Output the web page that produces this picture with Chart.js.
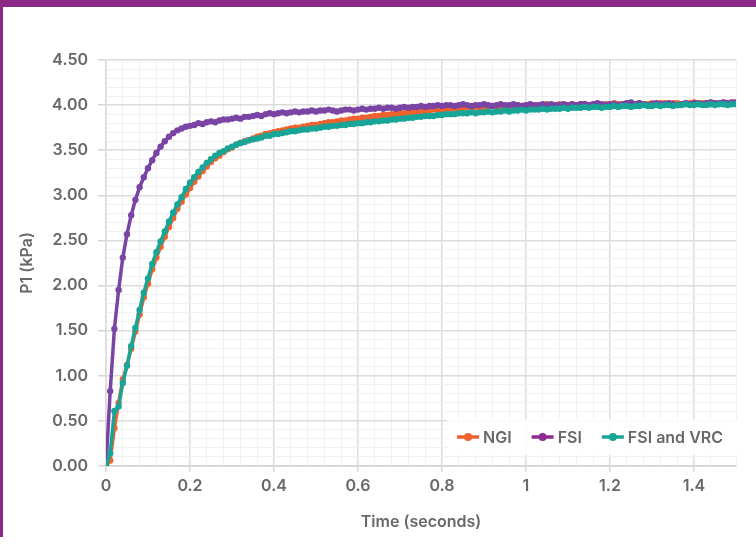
<!DOCTYPE html>
<html>
<head>
<meta charset="utf-8">
<script src="https://cdn.jsdelivr.net/npm/chart.js@4.4.1/dist/chart.umd.min.js"></script>
<style>
  html, body { margin: 0; padding: 0; background: #fff; }
  #wrap { position: relative; width: 756px; height: 547px; overflow: hidden; }
  #frameTop { position: absolute; left: 0; top: 0; width: 756px; height: 7px; background: #8a2a86; }
  #frameLeft { position: absolute; left: 0; top: 0; width: 3px; height: 537px; background: #8a2a86; }
</style>
</head>
<body>
<div id="wrap">
  <canvas id="chart" width="756" height="547"></canvas>
  <div id="frameTop"></div>
  <div id="frameLeft"></div>
</div>
<script>
// time stamps (s)
const times = [
  0, 0.01, 0.02, 0.03, 0.04, 0.05, 0.06, 0.07, 0.08, 0.09,
  0.10, 0.11, 0.12, 0.13, 0.14, 0.15, 0.16, 0.17, 0.18, 0.19,
  0.20, 0.21, 0.22, 0.23, 0.24, 0.25, 0.26, 0.27, 0.28, 0.29,
  0.30, 0.31, 0.32, 0.33, 0.34, 0.35, 0.36, 0.37, 0.38, 0.39,
  0.40, 0.41, 0.42, 0.43, 0.44, 0.45, 0.46, 0.47, 0.48, 0.49,
  0.50, 0.51, 0.52, 0.53, 0.54, 0.55, 0.56, 0.57, 0.58, 0.59,
  0.60, 0.61, 0.62, 0.63, 0.64, 0.65, 0.66, 0.67, 0.68, 0.69,
  0.70, 0.71, 0.72, 0.73, 0.74, 0.75, 0.76, 0.77, 0.78, 0.79,
  0.80, 0.81, 0.82, 0.83, 0.84, 0.85, 0.86, 0.87, 0.88, 0.89,
  0.90, 0.91, 0.92, 0.93, 0.94, 0.95, 0.96, 0.97, 0.98, 0.99,
  1.00, 1.01, 1.02, 1.03, 1.04, 1.05, 1.06, 1.07, 1.08, 1.09,
  1.10, 1.11, 1.12, 1.13, 1.14, 1.15, 1.16, 1.17, 1.18, 1.19,
  1.20, 1.21, 1.22, 1.23, 1.24, 1.25, 1.26, 1.27, 1.28, 1.29,
  1.30, 1.31, 1.32, 1.33, 1.34, 1.35, 1.36, 1.37, 1.38, 1.39,
  1.40, 1.41, 1.42, 1.43, 1.44, 1.45, 1.46, 1.47, 1.48, 1.49,
  1.50
];

// P1 (kPa)
const ngi = [
  0, 0.06, 0.42, 0.70, 0.96, 1.12, 1.30, 1.49, 1.68, 1.87,
  2.02, 2.18, 2.31, 2.43, 2.54, 2.65, 2.75, 2.85, 2.93, 3.01,
  3.08, 3.15, 3.21, 3.27, 3.32, 3.37, 3.41, 3.44, 3.48, 3.51,
  3.53, 3.56, 3.58, 3.60, 3.61, 3.63, 3.65, 3.66, 3.68, 3.69,
  3.70, 3.71, 3.72, 3.73, 3.74, 3.75, 3.75, 3.76, 3.77, 3.78,
  3.78, 3.79, 3.80, 3.81, 3.81, 3.82, 3.83, 3.83, 3.84, 3.85,
  3.85, 3.86, 3.86, 3.87, 3.88, 3.88, 3.89, 3.89, 3.90, 3.90,
  3.91, 3.91, 3.92, 3.92, 3.93, 3.93, 3.94, 3.94, 3.95, 3.95,
  3.95, 3.96, 3.96, 3.96, 3.97, 3.97, 3.97, 3.97, 3.98, 3.98,
  3.98, 3.98, 3.99, 3.98, 3.99, 3.99, 3.99, 3.99, 4.00, 3.99,
  4.00, 4.00, 3.99, 4.00, 4.00, 4.01, 4.00, 4.00, 4.01, 4.00,
  4.00, 4.01, 4.00, 4.01, 4.01, 4.00, 4.01, 4.01, 4.00, 4.01,
  4.01, 4.02, 4.01, 4.01, 4.02, 4.01, 4.01, 4.02, 4.01, 4.01,
  4.02, 4.01, 4.02, 4.02, 4.01, 4.02, 4.02, 4.01, 4.02, 4.02,
  4.03, 4.02, 4.02, 4.02, 4.03, 4.02, 4.02, 4.03, 4.02, 4.03,
  4.03
];

const fsi = [
  0, 0.83, 1.52, 1.95, 2.31, 2.57, 2.78, 2.95, 3.09, 3.20,
  3.30, 3.39, 3.47, 3.54, 3.60, 3.65, 3.69, 3.72, 3.74, 3.76,
  3.77, 3.78, 3.80, 3.79, 3.81, 3.82, 3.81, 3.83, 3.84, 3.84,
  3.85, 3.86, 3.85, 3.87, 3.87, 3.88, 3.89, 3.88, 3.90, 3.91,
  3.90, 3.91, 3.92, 3.91, 3.92, 3.93, 3.92, 3.93, 3.93, 3.94,
  3.93, 3.94, 3.94, 3.95, 3.94, 3.93, 3.94, 3.95, 3.95, 3.94,
  3.95, 3.96, 3.95, 3.96, 3.96, 3.97, 3.96, 3.97, 3.97, 3.96,
  3.97, 3.98, 3.97, 3.98, 3.98, 3.99, 3.98, 3.99, 3.99, 4.00,
  3.99, 4.00, 4.00, 3.99, 4.00, 4.01, 4.00, 3.99, 4.00, 4.00,
  4.01, 4.00, 3.99, 4.00, 4.01, 4.00, 4.00, 4.01, 4.00, 3.99,
  4.00, 4.01, 4.00, 4.00, 4.01, 4.00, 4.01, 4.00, 4.00, 4.01,
  4.00, 4.01, 4.00, 4.01, 4.01, 4.00, 4.01, 4.02, 4.01, 4.00,
  4.01, 4.01, 4.00, 4.01, 4.02, 4.03, 4.01, 4.02, 4.01, 4.00,
  4.01, 4.02, 4.01, 4.01, 4.02, 4.01, 4.00, 4.01, 4.02, 4.01,
  4.02, 4.02, 4.01, 4.02, 4.03, 4.02, 4.02, 4.03, 4.02, 4.03,
  4.03
];

const fsiVrc = [
  0, 0.14, 0.61, 0.66, 0.92, 1.11, 1.33, 1.53, 1.73, 1.92,
  2.08, 2.24, 2.37, 2.49, 2.60, 2.71, 2.81, 2.90, 2.98, 3.07,
  3.14, 3.20, 3.26, 3.31, 3.36, 3.40, 3.44, 3.47, 3.49, 3.52,
  3.54, 3.56, 3.58, 3.59, 3.61, 3.62, 3.63, 3.64, 3.66, 3.66,
  3.68, 3.68, 3.69, 3.70, 3.71, 3.71, 3.72, 3.73, 3.73, 3.74,
  3.74, 3.75, 3.76, 3.76, 3.77, 3.77, 3.78, 3.78, 3.79, 3.79,
  3.80, 3.80, 3.81, 3.81, 3.82, 3.82, 3.83, 3.83, 3.84, 3.84,
  3.85, 3.85, 3.86, 3.86, 3.87, 3.87, 3.88, 3.88, 3.88, 3.89,
  3.89, 3.90, 3.90, 3.90, 3.91, 3.91, 3.91, 3.92, 3.91, 3.92,
  3.92, 3.93, 3.92, 3.93, 3.93, 3.94, 3.93, 3.94, 3.94, 3.95,
  3.94, 3.95, 3.95, 3.95, 3.96, 3.95, 3.96, 3.96, 3.96, 3.97,
  3.96, 3.97, 3.97, 3.97, 3.98, 3.97, 3.98, 3.98, 3.97, 3.98,
  3.98, 3.99, 3.98, 3.99, 3.99, 3.98, 3.99, 3.99, 4.00, 3.99,
  3.99, 4.00, 3.99, 4.00, 4.00, 3.99, 4.00, 4.00, 4.01, 4.00,
  4.00, 4.01, 4.00, 4.00, 4.01, 4.00, 4.01, 4.01, 4.00, 4.01,
  4.01
];

const seriesLabels = ['NGI', 'FSI', 'FSI and VRC'];
const seriesColors = ['#f0622d', '#7a44a4', '#17a597'];
const legendColors = ['#f0622d', '#8b2c8e', '#17a597'];

const textColor = '#67676c';
const fontFamily = 'Inter, "Open Sans", sans-serif';

function pts(ys) {
  return times.map((t, i) => ({x: t, y: ys[i]}));
}

const isMajorY = v => Math.abs(v * 2 - Math.round(v * 2)) < 1e-6;
const isMajorX = v => Math.abs(v * 5 - Math.round(v * 5)) < 1e-6;

const legendBox = {
  id: 'legendBox',
  afterDatasetsDraw(chart) {
    const {ctx, chartArea} = chart;
    ctx.save();
    ctx.font = '600 16px ' + fontFamily;
    const lineW = 22, gap = 4, itemGap = 20;
    const widths = seriesLabels.map(l => lineW + gap + ctx.measureText(l).width);
    const total = widths.reduce((a, b) => a + b, 0) + itemGap * (widths.length - 1);
    const right = chartArea.right - 13;
    const cy = chartArea.bottom - 29;
    let x = right - total;
    ctx.fillStyle = 'rgba(255,255,255,0.88)';
    ctx.fillRect(x - 10, cy - 18, total + 24, 36);
    ctx.textBaseline = 'middle';
    seriesLabels.forEach((label, i) => {
      const c = legendColors[i];
      ctx.strokeStyle = c;
      ctx.lineWidth = 3.5;
      ctx.beginPath();
      ctx.moveTo(x, cy);
      ctx.lineTo(x + lineW, cy);
      ctx.stroke();
      ctx.fillStyle = c;
      ctx.beginPath();
      ctx.arc(x + lineW / 2, cy, 4, 0, Math.PI * 2);
      ctx.fill();
      ctx.fillStyle = textColor;
      ctx.fillText(label, x + lineW + gap, cy + 1);
      x += widths[i] + itemGap;
    });
    ctx.restore();
  }
};

const datasets = [ngi, fsi, fsiVrc].map((ys, i) => ({
  label: seriesLabels[i],
  data: pts(ys),
  borderColor: seriesColors[i],
  backgroundColor: seriesColors[i],
  pointBackgroundColor: seriesColors[i],
  pointBorderColor: seriesColors[i],
  pointRadius: 3.2,
  pointBorderWidth: 0,
  borderWidth: 3.5,
  tension: 0,
  order: 3 - i
}));

const tickFont = {family: fontFamily, size: 16, weight: '600'};

new Chart(document.getElementById('chart'), {
  type: 'line',
  data: {datasets},
  options: {
    responsive: false,
    animation: false,
    layout: {padding: {top: 60, right: 20, bottom: 0, left: 0}},
    plugins: {
      legend: {display: false},
      tooltip: {enabled: false}
    },
    scales: {
      x: {
        type: 'linear',
        min: 0,
        max: 1.5,
        afterFit: s => { s.height = 81; },
        ticks: {
          stepSize: 0.04,
          maxTicksLimit: 100,
          autoSkip: false,
          maxRotation: 0,
          padding: 5,
          color: textColor,
          font: tickFont,
          callback: v => isMajorX(v) ? String(Number(v.toFixed(1))) : ''
        },
        grid: {
          color: c => isMajorX(c.tick.value) ? '#dcdcdc' : '#f1f1f1',
          tickColor: c => isMajorX(c.tick.value) ? '#d6d6d6' : 'rgba(0,0,0,0)',
          tickLength: 6,
          lineWidth: c => isMajorX(c.tick.value) ? 1.5 : 1
        },
        border: {color: '#d2d2d2', width: 1.5},
        title: {
          display: true,
          text: 'Time (seconds)',
          color: textColor,
          font: tickFont,
          padding: {top: 0, bottom: 15}
        }
      },
      y: {
        min: 0,
        max: 4.5,
        afterFit: s => { s.width = 106; },
        ticks: {
          stepSize: 0.1,
          maxTicksLimit: 100,
          autoSkip: false,
          padding: 10,
          color: textColor,
          font: tickFont,
          callback: v => isMajorY(v) ? v.toFixed(2) : ''
        },
        grid: {
          color: c => isMajorY(c.tick.value) ? '#dcdcdc' : '#f1f1f1',
          tickColor: c => isMajorY(c.tick.value) ? '#d6d6d6' : 'rgba(0,0,0,0)',
          tickLength: 8,
          lineWidth: c => isMajorY(c.tick.value) ? 1.5 : 1
        },
        border: {color: '#e2e2e2', width: 1},
        title: {
          display: true,
          text: 'P1 (kPa)',
          color: textColor,
          font: tickFont,
          padding: {top: 18, bottom: 0}
        }
      }
    }
  },
  plugins: [legendBox]
});
</script>
</body>
</html>
